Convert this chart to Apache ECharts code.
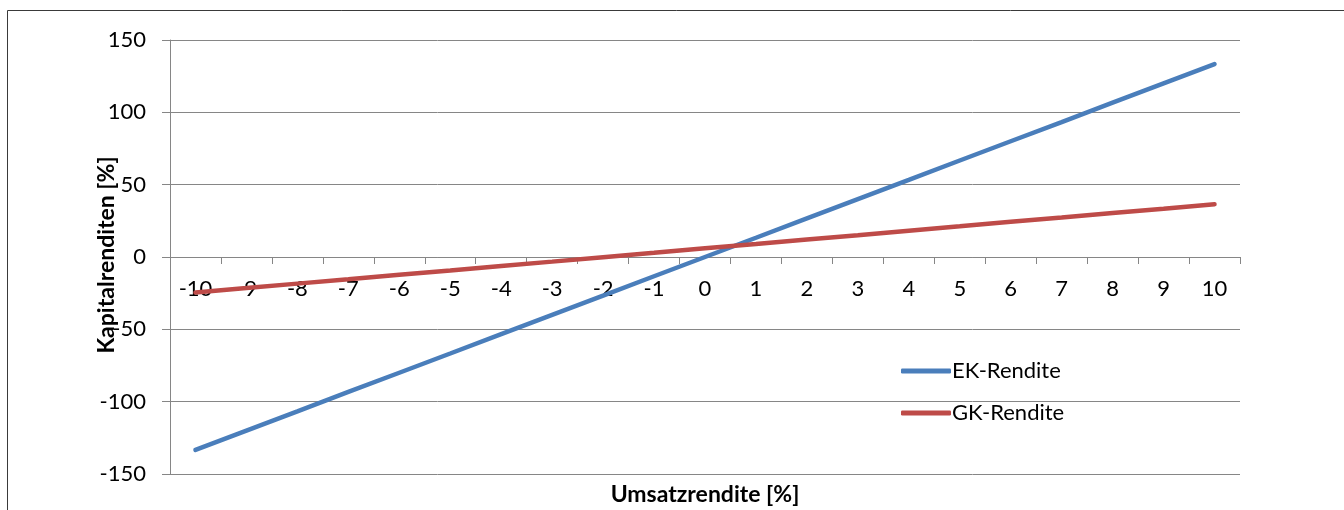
<!DOCTYPE html>
<html>
<head>
<meta charset="utf-8">
<script src="https://cdn.jsdelivr.net/npm/echarts@6/dist/echarts.min.js"></script>
<style>
html,body{margin:0;padding:0;background:#fff;overflow:hidden;}
#chart{width:1344px;height:510px;}
</style>
</head>
<body>
<div id="chart"></div>
<script>
const categories = ['-10','-9','-8','-7','-6','-5','-4','-3','-2','-1','0','1','2','3','4','5','6','7','8','9','10'];
const ekRendite = [-133.3,-120,-106.7,-93.3,-80,-66.7,-53.3,-40,-26.7,-13.3,0,13.3,26.7,40,53.3,66.7,80,93.3,106.7,120,133.3];
const gkRendite = [-24.5,-21.5,-18.4,-15.4,-12.3,-9.3,-6.2,-3.2,-0.1,2.9,6.0,9.0,12.1,15.1,18.2,21.2,24.3,27.3,30.4,33.4,36.5];
const yTicks = { min: -150, max: 150, interval: 50 };
const seriesNames = ['EK-Rendite', 'GK-Rendite'];
const xTitle = 'Umsatzrendite [%]';
const yTitle = 'Kapitalrenditen [%]';

const FONT = 'Lato, "Open Sans", sans-serif';
const AXIS = '#868686';
const chart = echarts.init(document.getElementById('chart'));
chart.setOption({
  backgroundColor: '#fff',
  animation: false,
  graphic: [
    { type: 'rect', shape: { x: 7.5, y: 10.5, width: 1500, height: 700 }, style: { fill: 'none', stroke: '#3a3a3a', lineWidth: 1 }, silent: true, z: 0 },
    { type: 'text', x: 107, y: 255, rotation: Math.PI / 2, style: { text: yTitle, font: 'bold 23px ' + FONT, fill: '#000', align: 'center', verticalAlign: 'middle' } }
  ],
  grid: { left: 170, top: 40, right: 104, bottom: 36, containLabel: false, outerBoundsMode: 'none' },
  legend: {
    orient: 'vertical', left: 896, top: 355, itemGap: 20,
    itemWidth: 50, itemHeight: 5, icon: 'roundRect',
    textStyle: { fontFamily: FONT, fontSize: 22, color: '#000', lineHeight: 22, padding: [0, 0, 0, -4] },
    data: seriesNames
  },
  xAxis: {
    type: 'category', data: categories, boundaryGap: true,
    position: 'bottom', offset: -217,
    axisLine: { onZero: false, lineStyle: { color: AXIS, width: 1 } },
    axisTick: { show: true, length: 7, inside: false, lineStyle: { color: AXIS } },
    axisLabel: { interval: 0, margin: 21, fontFamily: FONT, fontSize: 22, color: '#000' },
    splitLine: { show: false },
    name: xTitle, nameLocation: 'middle', nameGap: 226,
    nameTextStyle: { fontFamily: FONT, fontSize: 23, fontWeight: 'bold', color: '#000' }
  },
  yAxis: {
    type: 'value', min: yTicks.min, max: yTicks.max, interval: yTicks.interval,
    axisLine: { show: true, lineStyle: { color: AXIS, width: 1 } },
    axisTick: { show: true, length: 8, inside: false, lineStyle: { color: AXIS } },
    axisLabel: { margin: 24, fontFamily: FONT, fontSize: 22, color: '#000' },
    splitLine: { show: true, lineStyle: { color: AXIS, width: 1 } }
  },
  series: [
    { name: seriesNames[0], type: 'line', data: ekRendite, showSymbol: false, symbol: 'none', color: '#4A7EBB', lineStyle: { width: 4.5, color: '#4A7EBB', cap: 'round' }, z: 3 },
    { name: seriesNames[1], type: 'line', data: gkRendite, showSymbol: false, symbol: 'none', color: '#BE4B48', lineStyle: { width: 4.5, color: '#BE4B48', cap: 'round' }, z: 4 }
  ]
});
</script>
</body>
</html>
